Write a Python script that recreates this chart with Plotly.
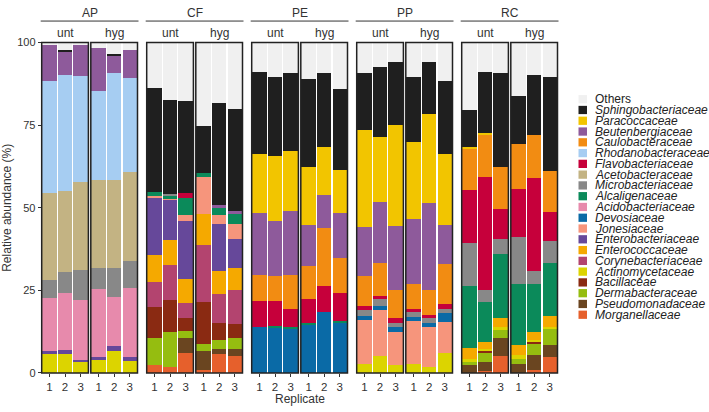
import plotly.graph_objects as go

W, H = 709, 412

# ---------------- data ----------------
sites = ["AP", "CF", "PE", "PP", "RC"]
treatments = ["unt", "hyg"]
replicates = [1, 2, 3]
rep_labels = ["1", "2", "3"]

# each list: 30 values = 5 sites x (unt r1-3, hyg r1-3)
Z6 = [0, 0, 0, 0, 0, 0]
morganellaceae = Z6 + [2.5, 1.8, 6.2, 1.0, 5.7, 5.2] + Z6 + Z6 + [0, 0.5, 5.2, 0, 0.8, 4.9]
pseudomonadaceae = Z6 + [0, 0, 4.4, 5.7, 1.7, 2.2] + Z6 + Z6 + [2.5, 2.7, 5.4, 2.8, 4.7, 3.7]
dermabacteraceae = Z6 + [8.1, 10.5, 2.2, 2.1, 2.7, 3.2] + Z6 + Z6 + [0.7, 3.2, 2.7, 1.4, 3.6, 5.0]
bacillaceae = Z6 + [9.3, 9.8, 3.9, 12.6, 4.9, 4.2] + Z6 + Z6 + [0, 0.4, 0, 0, 0.4, 0]
actinomycetaceae = [5.6, 5.6, 3.2, 3.9, 6.7, 3.7] + Z6 + Z6 + [2.6, 5.2, 2.3, 2.8, 1.8, 6.2] + [1.0, 0.4, 0.5, 1.3, 0.4, 0.4]
corynebacteriaceae = Z6 + [7.7, 10.6, 4.4, 17.2, 8.9, 10.2] + Z6 + Z6 + Z6
enterococcaceae = Z6 + [8.1, 7.7, 7.2, 9.5, 7.0, 6.9] + Z6 + Z6 + [3.3, 2.1, 2.7, 3.1, 2.4, 3.2]
enterobacteriaceae = [1.0, 1.3, 0.8, 1.0, 1.5, 1.0] + [17.4, 12.2, 17.7, 0, 14.1, 8.7] + Z6 + Z6 + Z6
jonesiaceae = Z6 + [0.5, 0.2, 1.9, 11.1, 2.9, 4.4] + Z6 + [13.4, 13.8, 10.0, 13.0, 12.0, 9.3] + Z6
devosiaceae = Z6 + Z6 + [13.8, 14.0, 13.5, 14.9, 18.5, 15.4] + [1.2, 1.4, 1.5, 1.2, 1.2, 2.7] + Z6
acidobacteriaceae = [16.0, 17.3, 18.1, 20.4, 14.7, 21.1] + Z6 + Z6 + Z6 + Z6
alcaligenaceae = Z6 + [1.2, 1.0, 5.2, 1.2, 2.0, 3.1] + [0, 0.3, 0.3, 0.3, 0, 0.3] + Z6 + [18.8, 12.1, 19.4, 18.2, 14.5, 16.0]
microbacteriaceae = [5.6, 6.4, 9.1, 6.6, 9.0, 8.2] + [0, 0.5, 0, 0, 0, 0] + Z6 + [1.8, 2.0, 1.4, 1.8, 1.5, 1.3] + [13.0, 3.8, 4.7, 14.5, 4.1, 6.7]
acetobacteraceae = [26.2, 24.5, 26.6, 26.4, 26.4, 26.7] + Z6 + Z6 + Z6 + Z6
flavobacteriaceae = Z6 + [0, 0, 1.4, 0, 0, 0] + [7.9, 7.4, 5.6, 7.2, 7.8, 8.4] + [1.4, 1.0, 1.5, 0.6, 1.2, 1.4] + [16.2, 34.2, 9.1, 14.5, 28.1, 8.8]
rhodanobacteraceae = [34.0, 35.0, 32.1, 27.0, 32.4, 28.5] + Z6 + Z6 + Z6 + Z6
caulobacteraceae = Z6 + Z6 + [8.1, 7.8, 10.4, 10.1, 17.7, 10.6] + [9.1, 9.8, 8.3, 7.6, 7.4, 12.1] + [12.6, 12.8, 12.5, 13.5, 13.0, 12.3]
beutenbergiaceae = [11.1, 7.3, 9.4, 13.2, 5.4, 8.6] + [0, 0, 0, 0, 0.8, 0.8] + [18.6, 16.5, 19.1, 12.2, 10.0, 13.7] + [14.7, 18.7, 19.5, 19.5, 26.3, 11.7] + Z6
paracoccaceae = Z6 + Z6 + [17.9, 19.6, 18.4, 17.7, 14.3, 13.0] + [29.3, 19.6, 30.6, 23.5, 27.0, 21.7] + [0.3, 0.3, 0, 0, 0, 0]
sphingobacteriaceae = [0, 0.3, 0, 0, 0.3, 0] + [31.6, 28.3, 27.8, 14.4, 30.9, 31.0] + [24.9, 23.9, 23.4, 26.5, 22.6, 24.6] + [17.2, 21.1, 19.0, 19.7, 15.7, 22.0] + [11.2, 18.7, 28.5, 14.5, 18.2, 28.5]
others = [0.5, 2.3, 0.7, 1.5, 3.6, 2.2] + [13.6, 17.4, 17.7, 25.2, 18.4, 20.1] + [8.8, 10.5, 9.3, 11.1, 9.1, 14.0] + [9.3, 7.4, 5.9, 10.3, 5.9, 11.6] + [20.4, 8.8, 9.3, 16.2, 9.8, 10.5]

# stacking order bottom -> top
families = [
    ("Morganellaceae", morganellaceae, "#E6602C"),
    ("Pseudomonadaceae", pseudomonadaceae, "#6A4520"),
    ("Dermabacteraceae", dermabacteraceae, "#95BD10"),
    ("Bacillaceae", bacillaceae, "#8A2A12"),
    ("Actinomycetaceae", actinomycetaceae, "#DCD400"),
    ("Corynebacteriaceae", corynebacteriaceae, "#B3446F"),
    ("Enterococcaceae", enterococcaceae, "#F5A900"),
    ("Enterobacteriaceae", enterobacteriaceae, "#66489A"),
    ("Jonesiaceae", jonesiaceae, "#F6957C"),
    ("Devosiaceae", devosiaceae, "#0A6AA6"),
    ("Acidobacteriaceae", acidobacteriaceae, "#E78AAC"),
    ("Alcaligenaceae", alcaligenaceae, "#0B8A5A"),
    ("Microbacteriaceae", microbacteriaceae, "#888888"),
    ("Acetobacteraceae", acetobacteraceae, "#C3B383"),
    ("Flavobacteriaceae", flavobacteriaceae, "#C6003B"),
    ("Rhodanobacteraceae", rhodanobacteraceae, "#A6CDF2"),
    ("Caulobacteraceae", caulobacteraceae, "#F28C12"),
    ("Beutenbergiaceae", beutenbergiaceae, "#8E5A9B"),
    ("Paracoccaceae", paracoccaceae, "#F2C500"),
    ("Sphingobacteriaceae", sphingobacteriaceae, "#1F1F1F"),
    ("Others", others, "#F0F0F0"),
]

# ---------------- layout geometry (pixels) ----------------
FONT = "Liberation Sans, Arial, sans-serif"
TXT = "#333333"
panel_w = 46.7
inner_gap = 2.4
group_period = 105.0
left0 = 41.7
top_px, bot_px = 37.7, 378.0

def px_x(v):
    return v / W

def px_y(v):
    return 1 - v / H

fig = go.Figure()
layout = dict(
    width=W, height=H,
    margin=dict(l=0, r=0, t=0, b=0),
    paper_bgcolor="white", plot_bgcolor="white",
    barmode="stack", bargap=0.08,
    showlegend=False,
    font=dict(family=FONT, color=TXT, size=11),
)
shapes, annotations = [], []

panel = 0
for gi, site in enumerate(sites):
    gl = left0 + gi * group_period
    for ti, tr in enumerate(treatments):
        l = gl + ti * (panel_w + inner_gap)
        r = l + panel_w
        axname = "xaxis" if panel == 0 else f"xaxis{panel + 1}"
        xref = "x" if panel == 0 else f"x{panel + 1}"
        layout[axname] = dict(
            domain=[px_x(l), px_x(r)], anchor="y", range=[0.5, 3.5],
            tickvals=replicates, ticktext=rep_labels, ticks="outside", ticklen=3,
            tickcolor=TXT, tickwidth=1, showgrid=False, zeroline=False, showline=False,
            tickfont=dict(size=11.5, color=TXT, family=FONT), fixedrange=True,
        )
        for name, vals, col in families:
            seg = vals[panel * 3: panel * 3 + 3]
            fig.add_trace(go.Bar(
                x=replicates, y=seg, name=name, xaxis=xref, yaxis="y",
                marker=dict(color=col, line=dict(width=0)), showlegend=False,
            ))
        shapes.append(dict(type="rect", xref=f"{xref} domain", yref="y domain",
                           x0=0, x1=1, y0=0, y1=1, line=dict(color="#222222", width=1.5),
                           fillcolor="rgba(0,0,0,0)", layer="above"))
        annotations.append(dict(text=tr, xref="paper", yref="paper",
                                x=px_x((l + r) / 2), y=px_y(27.5), showarrow=False,
                                font=dict(size=12, color=TXT, family=FONT),
                                xanchor="center", yanchor="middle"))
        panel += 1
    gr = gl + 2 * panel_w + inner_gap
    shapes.append(dict(type="line", xref="paper", yref="paper",
                       x0=px_x(gl - 1), x1=px_x(gr + 1), y0=px_y(15.5), y1=px_y(15.5),
                       line=dict(color="#333333", width=1)))
    annotations.append(dict(text=site, xref="paper", yref="paper",
                            x=px_x((gl + gr) / 2), y=px_y(7), showarrow=False,
                            font=dict(size=12, color=TXT, family=FONT),
                            xanchor="center", yanchor="middle"))

layout["yaxis"] = dict(
    domain=[px_y(bot_px), px_y(top_px)], anchor="x", range=[0, 100],
    tickvals=[0, 25, 50, 75, 100], ticks="outside", ticklen=3, tickcolor=TXT,
    showgrid=False, zeroline=False, showline=False,
    tickfont=dict(size=11, color=TXT, family=FONT), fixedrange=True,
)

# axis titles
annotations.append(dict(text="Relative abundance (%)", xref="paper", yref="paper",
                        x=px_x(7), y=px_y((top_px + bot_px) / 2), textangle=-90,
                        showarrow=False, font=dict(size=12, color=TXT, family=FONT),
                        xanchor="center", yanchor="middle"))
annotations.append(dict(text="Replicate", xref="paper", yref="paper",
                        x=px_x(300), y=px_y(404.5), showarrow=False,
                        font=dict(size=12, color=TXT, family=FONT),
                        xanchor="center", yanchor="middle"))

# legend (top entry = last stacked family)
leg_top, leg_step = 96.0, 11.1
key = 8.5
for i, (name, vals, col) in enumerate(reversed(families)):
    cy = leg_top + i * leg_step
    shapes.append(dict(type="rect", xref="paper", yref="paper",
                       x0=px_x(578.5), x1=px_x(578.5 + key),
                       y0=px_y(cy - key / 2), y1=px_y(cy + key / 2),
                       line=dict(width=0), fillcolor=col))
    label = name if name == "Others" else f"<i>{name}</i>"
    annotations.append(dict(text=label, xref="paper", yref="paper",
                            x=px_x(593), y=px_y(cy), showarrow=False,
                            font=dict(size=12, color="#222222", family=FONT),
                            xanchor="left", yanchor="middle"))

layout["shapes"] = shapes
layout["annotations"] = annotations
fig.update_layout(**layout)
fig.write_html("out.html")
